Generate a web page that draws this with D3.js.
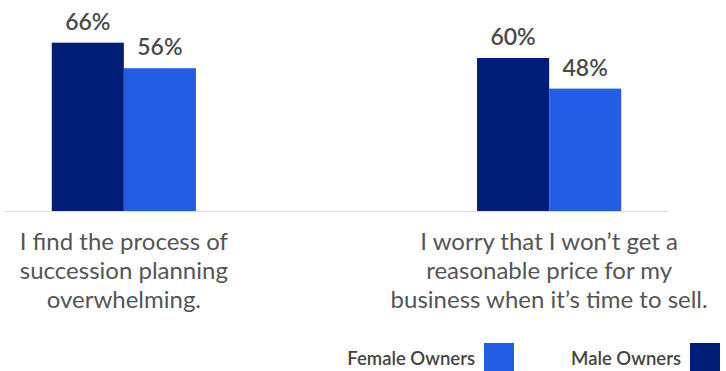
<!DOCTYPE html>
<html>
<head>
<meta charset="utf-8">
<script src="https://cdn.jsdelivr.net/npm/d3@7"></script>
<style>
  body { margin: 0; background: #fff; }
  svg { display: block; font-family: Lato, "Open Sans", sans-serif; }
</style>
</head>
<body>
<div id="chart"></div>
<script>
const categories = ["succession", "price"];
const categoryLines = [
    ["I find the process of", "succession planning", "overwhelming."],
    ["I worry that I won\u2019t get a", "reasonable price for my", "business when it\u2019s time to sell."]
];
const seriesNames = ["Male Owners", "Female Owners"];
const maleValues = [66, 60];
const femaleValues = [56, 48];
const legendOrder = ["Female Owners", "Male Owners"];

const colors = { "Male Owners": "#001e78", "Female Owners": "#235de4" };

const width = 726;
const height = 371;
const baseline = 211;

const data = categories.map((c, i) => ({
    cat: c,
    values: [
        { series: "Male Owners", value: maleValues[i] },
        { series: "Female Owners", value: femaleValues[i] }
    ]
}));

const x0 = d3.scaleBand()
    .domain(categories)
    .range([5, 668])
    .paddingInner(0.661)
    .paddingOuter(0.11);

const x1 = d3.scaleBand()
    .domain(seriesNames)
    .range([0, x0.bandwidth()]);

const y = d3.scaleLinear()
    .domain([0, 100])
    .range([baseline, baseline - 255]);

const svg = d3.select("#chart").append("svg")
    .attr("width", width)
    .attr("height", height);

const groups = svg.append("g")
    .selectAll("g")
    .data(data)
    .join("g")
    .attr("transform", d => `translate(${x0(d.cat)},0)`);

groups.selectAll("rect")
    .data(d => d.values)
    .join("rect")
    .attr("x", d => x1(d.series))
    .attr("y", d => y(d.value))
    .attr("width", x1.bandwidth())
    .attr("height", d => y(0) - y(d.value))
    .attr("fill", d => colors[d.series]);

groups.selectAll("text.val")
    .data(d => d.values)
    .join("text")
    .attr("class", "val")
    .attr("x", d => x1(d.series) + x1.bandwidth() / 2)
    .attr("y", d => y(d.value) - 13)
    .attr("text-anchor", "middle")
    .style("font-size", "23px")
    .style("font-weight", "600")
    .style("fill", "#4a4a4a")
    .text(d => d.value + "%");

// baseline
svg.append("line")
    .attr("x1", 5)
    .attr("x2", 668)
    .attr("y1", baseline + 0.5)
    .attr("y2", baseline + 0.5)
    .attr("stroke", "#dcdcdc")
    .attr("stroke-width", 1);

// category labels
const xAxis = svg.append("g")
    .attr("transform", `translate(0,${baseline})`)
    .call(d3.axisBottom(x0).tickSize(0).tickFormat(""));
xAxis.select(".domain").remove();

xAxis.selectAll(".tick").each(function (d) {
    const lines = categoryLines[categories.indexOf(d)];
    const t = d3.select(this).append("text")
        .attr("text-anchor", "middle")
        .attr("fill", "#555")
        .style("font-family", "Lato, 'Open Sans', sans-serif")
        .style("font-size", "24px");
    lines.forEach((l, i) => {
        t.append("tspan").attr("x", 0).attr("y", 39 + i * 29).text(l);
    });
});

// legend
const legendX = { "Female Owners": 484, "Male Owners": 690 };
const legend = svg.append("g")
    .selectAll("g")
    .data(legendOrder)
    .join("g")
    .attr("transform", d => `translate(${legendX[d]},343)`);
legend.append("rect")
    .attr("width", 30)
    .attr("height", 30)
    .attr("fill", d => colors[d]);
legend.append("text")
    .attr("x", -9)
    .attr("y", 22)
    .attr("text-anchor", "end")
    .style("font-size", "18.5px")
    .style("font-weight", "600")
    .style("fill", "#444")
    .text(d => d);
</script>
</body>
</html>
